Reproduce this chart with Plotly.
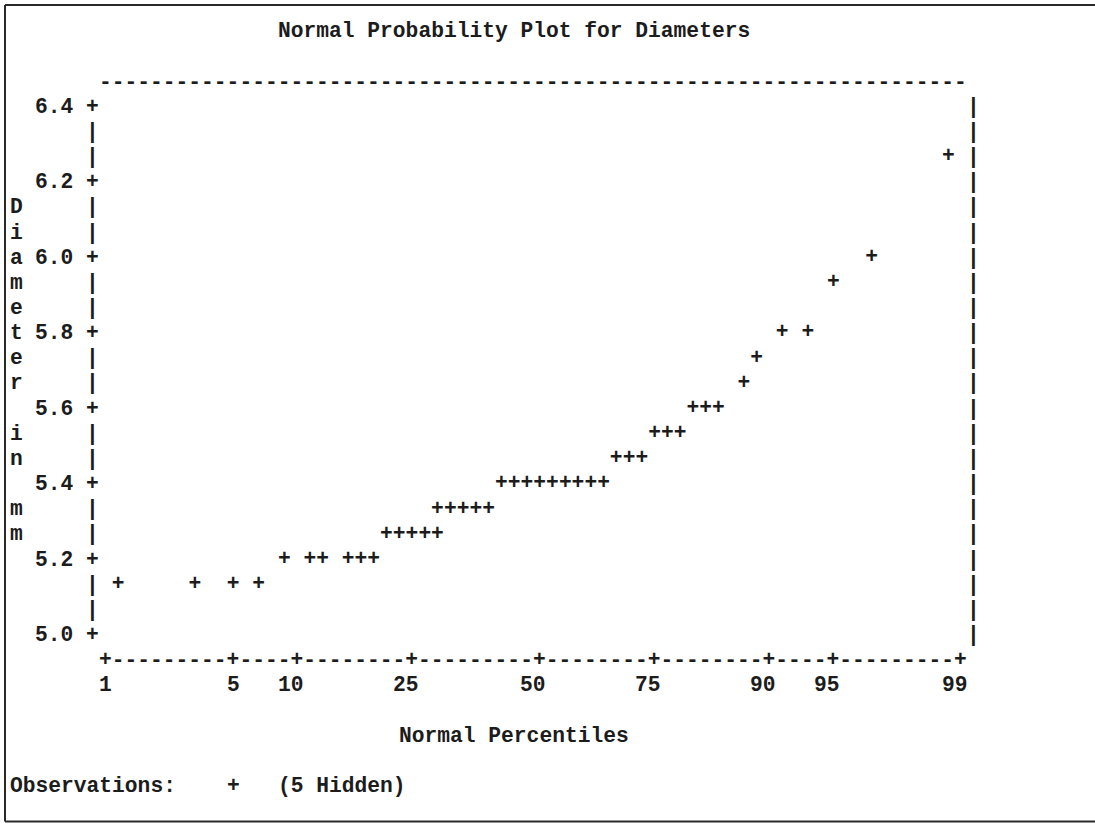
import math
import plotly.graph_objects as go

# ---------------- data ----------------
# x axis tick labels (normal percentiles) and their standard-normal quantiles
percentile_labels = ["1", "5", "10", "25", "50", "75", "90", "95", "99"]
percentile_z = [-2.326, -1.645, -1.282, -0.674, 0.0, 0.674, 1.282, 1.645, 2.326]

# y axis ticks (diameter in mm)
diameter_ticks = [6.4, 6.2, 6.0, 5.8, 5.6, 5.4, 5.2, 5.0]
diameter_tick_labels = ["6.4", "6.2", "6.0", "5.8", "5.6", "5.4", "5.2", "5.0"]

# visible observations: normal quantile (x) and diameter (y)
obs_z = [
    -2.257, -1.840, -1.632, -1.493,
    -1.354, -1.215, -1.146, -1.007, -0.937, -0.868,
    -0.799, -0.729, -0.660, -0.590, -0.521,
    -0.521, -0.451, -0.382, -0.312, -0.243,
    -0.174, -0.104, -0.035, 0.035, 0.104, 0.174, 0.243, 0.313, 0.382,
    0.451, 0.521, 0.590,
    0.660, 0.729, 0.799,
    0.868, 0.938, 1.007,
    1.146,
    1.215,
    1.354, 1.493,
    1.632,
    1.840,
    2.257,
]
obs_diameter = [
    5.133, 5.133, 5.133, 5.133,
    5.200, 5.200, 5.200, 5.200, 5.200, 5.200,
    5.267, 5.267, 5.267, 5.267, 5.267,
    5.333, 5.333, 5.333, 5.333, 5.333,
    5.400, 5.400, 5.400, 5.400, 5.400, 5.400, 5.400, 5.400, 5.400,
    5.467, 5.467, 5.467,
    5.533, 5.533, 5.533,
    5.600, 5.600, 5.600,
    5.667,
    5.733,
    5.800, 5.800,
    5.933,
    6.000,
    6.267,
]
hidden_count = 5

title_text = "Normal Probability Plot for Diameters"
x_title = "Normal Percentiles"
y_title = "Diameter in mm"
legend_label = "Observations:"

# ---------------- layout / style constants ----------------
FONT = "Courier New, Liberation Mono, monospace"
INK = "#1c1c1c"
W, H = 1095, 824
CW = 12.77            # character cell width (px)
RH = 25.16            # character row height (px)
FS = CW / 0.6001      # monospace font size giving that cell width
XR0 = 92.7            # px centre of the vertical-axis column (col 0)
YR0 = 106.7           # px centre of the top tick row (row 0)
Z_LO, Z_HI, NCOL = -2.326348, 2.326348, 67
DZ = (Z_HI - Z_LO) / NCOL
V_TOP = diameter_ticks[0]
V_ROW = 0.2 / 3


def z_of_col(c):
    return Z_LO + (c - 1) * DZ


def v_of_row(k):
    return V_TOP - k * V_ROW


x_range = [z_of_col((0 - XR0) / CW), z_of_col((W - XR0) / CW)]
y_range = [v_of_row((H - YR0) / RH), v_of_row((0 - YR0) / RH)]

fig = go.Figure()
fig.add_trace(go.Scatter(
    x=obs_z, y=obs_diameter, mode="text", text="+",
    textposition="middle center",
    textfont=dict(family=FONT, size=FS, color=INK, weight="bold"),
    hoverinfo="skip", showlegend=False, cliponaxis=False,
))

annotations = []


def ann(text, col, row):
    annotations.append(dict(
        text=text, x=z_of_col(col), y=v_of_row(row), xref="x", yref="y",
        xanchor="center", yanchor="middle", showarrow=False,
        font=dict(family=FONT, size=FS, color=INK, weight="bold"),
        borderpad=0,
    ))


tick_cols = [int(math.floor((z - Z_LO) / DZ + 0.5 + 1e-6)) + 1 for z in percentile_z]
tick_rows = [int(round((V_TOP - v) / V_ROW)) for v in diameter_ticks]
first_col, last_col = tick_cols[0], tick_cols[-1]
last_row = tick_rows[-1]

# title
ann(title_text, 33, -3)
# top border of dashes
ann("-" * (last_col - first_col + 1), (first_col + last_col) / 2, -1)
# vertical axis with ticks, right frame
for k in range(0, last_row + 1):
    ann("+" if k in tick_rows else "|", 0, k)
    ann("|", last_col + 1, k)
for lab, k in zip(diameter_tick_labels, tick_rows):
    ann(lab, -2 - (len(lab) - 1) / 2, k)
# vertical axis title, one letter per row
start_row = last_row / 2 - (len(y_title) - 1) / 2
for i, ch in enumerate(y_title):
    if ch != " ":
        ann(ch, -6, start_row + i)
# horizontal axis
axis_str = "".join("+" if c in tick_cols else "-" for c in range(first_col, last_col + 1))
ann(axis_str, (first_col + last_col) / 2, last_row + 1)
for lab, c in zip(percentile_labels, tick_cols):
    ann(lab, c - (len(lab) - 1) / 2, last_row + 2)
ann(x_title, 33, last_row + 4)
# legend
ann(legend_label, -6 + (len(legend_label) - 1) / 2, last_row + 6)
ann("+", 11, last_row + 6)
hid = f"({hidden_count} Hidden)"
ann(hid, 15 + (len(hid) - 1) / 2, last_row + 6)

# outer frame (left, top, bottom)
shapes = []
for x0, y0, x1, y1 in [(5, 5, 5, 821.5), (5, 5, W + 2, 5), (5, 821.5, W + 2, 821.5)]:
    shapes.append(dict(type="line", xref="paper", yref="paper",
                       x0=x0 / W, x1=x1 / W, y0=1 - y0 / H, y1=1 - y1 / H,
                       line=dict(color="#2a2a2a", width=2)))

fig.update_layout(
    width=W, height=H, autosize=False,
    margin=dict(l=0, r=0, t=0, b=0, pad=0),
    paper_bgcolor="white", plot_bgcolor="white",
    xaxis=dict(range=x_range, visible=False, fixedrange=True),
    yaxis=dict(range=y_range, visible=False, fixedrange=True),
    annotations=annotations, shapes=shapes, showlegend=False,
)

fig.write_html(
    "out.html",
    config={"displayModeBar": False, "staticPlot": True},
    post_script="document.body.style.margin='0px';document.body.style.overflow='hidden';",
)
